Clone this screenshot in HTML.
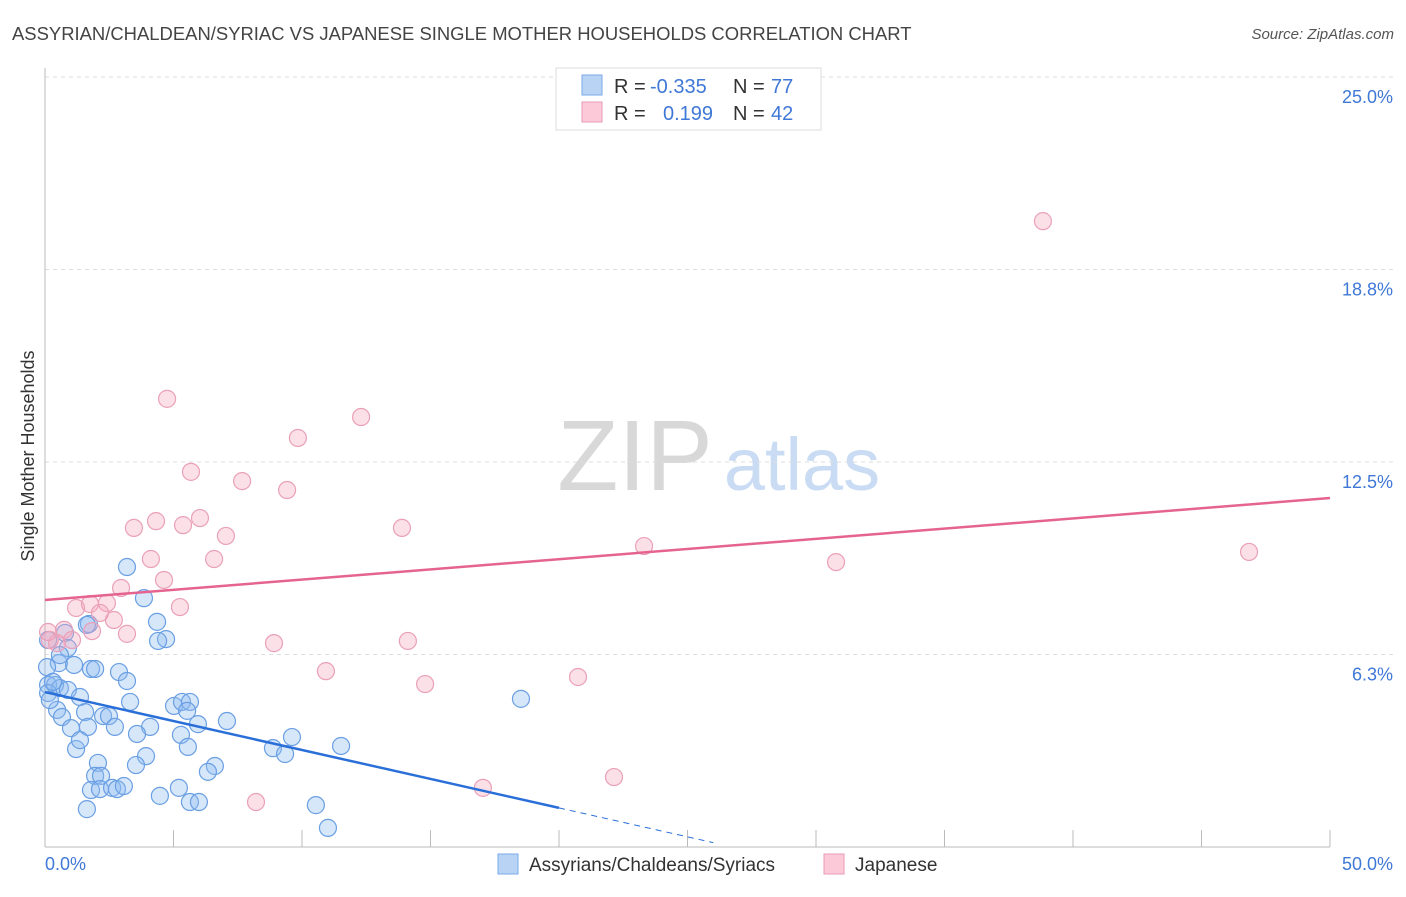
<!DOCTYPE html>
<html><head><meta charset="utf-8"><style>
body{margin:0;background:#fff;font-family:"Liberation Sans",sans-serif;}
svg text{font-family:"Liberation Sans",sans-serif;}
</style></head><body>
<svg id="chart" width="1406" height="892" xmlns="http://www.w3.org/2000/svg">
<text x="12" y="40" font-size="18.45" fill="#444">ASSYRIAN/CHALDEAN/SYRIAC VS JAPANESE SINGLE MOTHER HOUSEHOLDS CORRELATION CHART</text>
<text x="1394" y="39" font-size="15" fill="#555" text-anchor="end" font-style="italic">Source: ZipAtlas.com</text>
<text transform="translate(34,456) rotate(-90)" font-size="18" fill="#333" text-anchor="middle">Single Mother Households</text>
<g><text x="635" y="490" font-size="100" fill="#d8d8d8" text-anchor="middle" font-family="Liberation Serif,serif">ZIP</text><text x="802" y="490" font-size="74" fill="#c9dcf3" text-anchor="middle">atlas</text></g>
<g id="grid"></g><g id="axes"></g><g id="pts"></g><g id="lines"></g>
<g>
<rect x="556" y="68" width="265" height="62" fill="#fff" stroke="#ddd"/>
<rect x="582" y="75" width="20" height="20" fill="#b9d3f5" stroke="#7aa8e8"/>
<rect x="582" y="102" width="20" height="20" fill="#fbc9d8" stroke="#eb9ab5"/>
<text x="614" y="93" font-size="20" fill="#333">R = </text><text x="650" y="93" font-size="20" fill="#3f78d6">-0.335</text>
<text x="733" y="93" font-size="20" fill="#333">N = </text><text x="771" y="93" font-size="20" fill="#3f78d6">77</text>
<text x="614" y="120" font-size="20" fill="#333">R = </text><text x="663" y="120" font-size="20" fill="#3f78d6">0.199</text>
<text x="733" y="120" font-size="20" fill="#333">N = </text><text x="771" y="120" font-size="20" fill="#3f78d6">42</text>
</g>
<g>
<rect x="498" y="854" width="20" height="20" fill="#b9d3f5" stroke="#7aa8e8"/>
<text x="529" y="871" font-size="19" fill="#333">Assyrians/Chaldeans/Syriacs</text>
<rect x="824" y="854" width="20" height="20" fill="#fbc9d8" stroke="#eb9ab5"/>
<text x="855" y="871" font-size="19" fill="#333">Japanese</text>
</g>
</svg>
<script>
const yTicks=[6.25,12.5,18.75,25];
const yTickLabels=["6.3%","12.5%","18.8%","25.0%"];
const xTickLabels=["0.0%","50.0%"];
const blueX=[3.19,3.85,1.71,4.36,4.71,4.40,1.63,0.78,0.89,0.12,0.54,1.13,1.79,1.95,2.88,3.19,0.12,0.39,0.58,0.12,0.89,1.36,3.31,0.47,1.56,2.26,2.49,0.08,0.31,0.66,1.01,1.67,2.72,4.09,3.58,5.29,5.02,5.33,5.64,5.53,5.95,7.08,5.56,1.21,1.36,3.93,2.06,3.54,1.95,2.18,6.61,6.34,8.87,9.34,9.61,11.52,18.52,1.79,2.14,2.61,2.80,3.07,4.47,5.21,5.64,5.99,10.54,11.01,1.63,0.58,0.19];
const blueY=[9.09,8.08,7.24,7.31,6.75,6.69,7.21,6.95,6.46,6.72,5.97,5.91,5.78,5.78,5.68,5.39,5.26,5.26,5.16,5.00,5.10,4.87,4.71,4.45,4.38,4.25,4.25,5.84,5.36,4.22,3.86,3.90,3.90,3.90,3.67,3.64,4.58,4.71,4.71,4.42,3.99,4.09,3.25,3.18,3.47,2.95,2.73,2.66,2.31,2.31,2.63,2.44,3.21,3.02,3.57,3.28,4.81,1.85,1.88,1.92,1.88,1.98,1.66,1.92,1.46,1.46,1.36,0.62,1.23,6.23,4.77];
const pinkX=[38.83,4.75,12.30,9.84,5.68,7.67,9.42,4.32,3.46,5.37,6.03,13.89,7.04,4.12,6.58,23.31,30.78,46.85,4.63,2.96,5.25,1.21,1.75,2.41,2.14,2.68,3.19,1.83,0.74,1.05,0.19,0.47,0.12,8.91,14.12,10.93,14.79,20.74,22.14,17.04,8.21];
const pinkY=[20.32,14.55,13.96,13.28,12.18,11.88,11.59,10.58,10.36,10.45,10.68,10.36,10.10,9.35,9.35,9.77,9.25,9.58,8.67,8.41,7.79,7.76,7.89,7.92,7.60,7.37,6.92,7.01,7.05,6.72,6.72,6.62,6.98,6.62,6.69,5.71,5.29,5.52,2.27,1.92,1.46];
const blueTrend=[5.03,-0.188];
const pinkTrend=[8.02,0.0662];
const NS="http://www.w3.org/2000/svg";
const X=v=>45+v*25.7, Y=v=>847-v*30.8;
function mk(t,a,p){const e=document.createElementNS(NS,t);for(const k in a)e.setAttribute(k,a[k]);p.appendChild(e);return e;}
const grid=document.getElementById('grid'),axes=document.getElementById('axes');
yTicks.forEach((t,i)=>{
 const l=mk('line',{x1:45,x2:1393,y1:Y(t),y2:Y(t),stroke:'#ddd','stroke-dasharray':'4,4'},grid);
 
 
 const tx=mk('text',{x:1393,y:Y(t)+26,'font-size':18,fill:'#3f78d6','text-anchor':'end'},axes);
 tx.textContent=yTickLabels[i];
 
 
});
const ax=mk('line',{x1:45,x2:1330,y1:847,y2:847,stroke:'#bbb'},axes);


const ay=mk('line',{x1:45,x2:45,y1:68,y2:847,stroke:'#bbb'},axes);


for(let i=1;i<=10;i++){const t=mk('line',{x1:X(i*5),x2:X(i*5),y1:830,y2:847,stroke:'#bbb'},axes);
 
 }
[[0,'start',45],[50,'end',1393]].forEach((d,i)=>{const t=mk('text',{x:d[2],y:870,'font-size':18,fill:'#3f78d6','text-anchor':d[1]},axes);t.textContent=xTickLabels[i];
 
 });
const pts=document.getElementById('pts');
blueX.forEach((x,i)=>{const c=mk('circle',{cx:X(x),cy:Y(blueY[i]),r:8.5,fill:'rgba(140,185,240,0.35)',stroke:'#6a9fe3','stroke-width':1.2},pts);
 
 });
pinkX.forEach((x,i)=>{const c=mk('circle',{cx:X(x),cy:Y(pinkY[i]),r:8.5,fill:'rgba(245,165,190,0.35)',stroke:'#eaa0b8','stroke-width':1.2},pts);
 
 });
const lines=document.getElementById('lines');
const b1=mk('line',{x1:X(0),y1:Y(blueTrend[0]),x2:X(20),y2:Y(blueTrend[0]+blueTrend[1]*20),stroke:'#2a6fd8','stroke-width':2.5},lines);


const b2=mk('line',{x1:X(20),y1:Y(blueTrend[0]+blueTrend[1]*20),x2:X(26),y2:Y(blueTrend[0]+blueTrend[1]*26),stroke:'#2a6fd8','stroke-width':1,'stroke-dasharray':'6,5'},lines);


const p1=mk('line',{x1:X(0),y1:Y(pinkTrend[0]),x2:X(50),y2:Y(pinkTrend[0]+pinkTrend[1]*50),stroke:'#e5638f','stroke-width':2.5},lines);


</script>
</body></html>
